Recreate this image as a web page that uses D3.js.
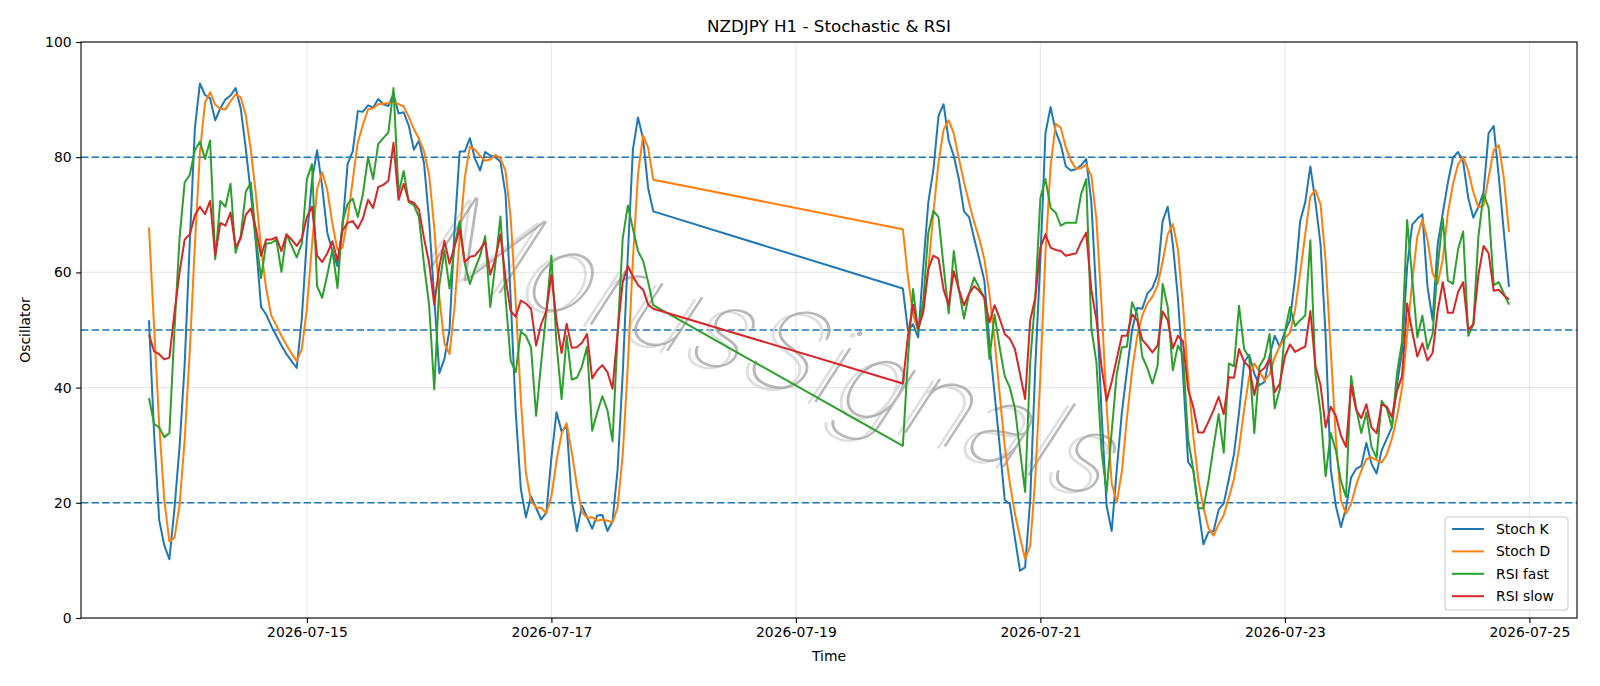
<!DOCTYPE html>
<html>
<head>
<meta charset="utf-8">
<script src="https://cdn.jsdelivr.net/npm/d3@7"></script>
<style>
html,body{margin:0;padding:0;background:#fff;}
svg{display:block;font-family:"DejaVu Sans",sans-serif;}
</style>
</head>
<body>
<svg id="chart" width="1600" height="686"></svg>
<script>
// ---------------- DATA ----------------
const title = "NZDJPY H1 - Stochastic & RSI";
const xLabel = "Time";
const yLabel = "Oscillator";
const seriesNames = ["Stoch K", "Stoch D", "RSI fast", "RSI slow"];
const sessionStarts = ["2026-07-13T17:00:00Z", "2026-07-19T21:00:00Z"]; // hourly bars
const sessionLengths = [100, 120];
const xTickDates = ["2026-07-15", "2026-07-17", "2026-07-19", "2026-07-21", "2026-07-23", "2026-07-25"];
const yTicks = [0, 20, 40, 60, 80, 100];
const refLevels = [20, 50, 80];
const watermark = "MorusSignals";

const stochK = [
  51.7, 32, 17, 12.6, 10.2, 19, 29.7, 44, 65, 85,
  92.8, 90.8, 90.2, 86.4, 88.5, 90, 90.7, 92, 88.5, 81.5,
  73.6, 65, 54, 52.7, 50.7, 49, 47.3, 45.8, 44.6, 43.4,
  52, 66, 76, 81.2, 74.9, 66.9, 63.7, 61.1, 68, 78.9,
  81, 88, 87.9, 89, 88.6, 90.1, 89.2, 88.9, 91, 87.6,
  87.8, 85.5, 81.3, 82.9, 78.9, 68.9, 55.6, 42.5, 45, 50,
  67.6, 81, 81, 83.3, 79.7, 77.7, 80.9, 80.3, 80, 79.2,
  73.6, 55.6, 35.7, 22.4, 17.5, 21.1, 19.1, 17.1, 18.3, 27.8,
  35.7, 32.4, 33.4, 20.5, 15.1, 19.5, 17.5, 15.5, 17.8, 17.9,
  15.1, 16.8, 25.8, 42.4, 62.9, 81.3, 86.9, 83.2, 74.6, 70.6,
  57.2, 49.9, 51, 48.7, 61, 72.2, 77.9, 87.2, 89.2, 82.9,
  80.2, 76.2, 70.6, 69.6, 65.9, 62.3, 58.6, 47.7, 39, 30,
  20.5, 19.8, 13.9, 8.2, 8.8, 20.5, 43.7, 62.3, 84.2, 88.7,
  84.5, 82.2, 78.4, 77.7, 77.9, 78.6, 79.7, 72.2, 55.6, 35.7,
  19.5, 15.1, 25.8, 35.7, 43, 50, 53.8, 53.7, 56.3, 57.3,
  59.6, 68.9, 71.4, 64.9, 55.6, 42.4, 27.1, 25.8, 19.1, 12.8,
  14.9, 15.1, 18.8, 19.9, 24.1, 28.4, 35.7, 44.4, 45.7, 42.4,
  40.4, 41, 45.5, 49, 47.1, 49.7, 51.7, 59, 68.9, 72.2,
  78.4, 72.2, 64.9, 49, 25.8, 19.5, 15.8, 19.1, 24.4, 25.9,
  26.4, 30.4, 26.8, 25.1, 29.1, 31.1, 33.1, 40.4, 46.3, 61,
  68.3, 69.3, 70.1, 57.5, 51.7, 64.9, 70.3, 75.6, 79.9, 80.9,
  79.2, 72.9, 69.5, 71.4, 73.9, 84.2, 85.4, 76.6, 66.9, 57.5
];
const stochD = [
  67.8, 50.5, 33.6, 20.5, 13.3, 13.9, 19.6, 30.9, 46.2, 64.7,
  80.9, 89.5, 91.3, 89.1, 88.4, 88.3, 89.7, 90.9, 90.4, 87.3,
  81.2, 73.4, 64.2, 57.2, 52.5, 50.8, 49, 47.4, 45.9, 44.6,
  46.7, 53.8, 64.7, 74.4, 77.4, 74.3, 68.5, 63.9, 64.3, 69.3,
  76, 82.6, 85.6, 88.3, 88.5, 89.2, 89.3, 89.4, 89.7, 89.2,
  88.8, 87, 84.9, 83.2, 81, 76.9, 67.8, 55.7, 47.7, 45.8,
  54.2, 66.2, 76.5, 81.8, 81.3, 80.2, 79.4, 79.6, 80.4, 79.8,
  77.6, 69.5, 55, 37.9, 25.2, 20.3, 19.2, 19.1, 18.2, 21.1,
  27.3, 32, 33.8, 28.8, 23, 18.4, 17.4, 17.5, 16.9, 17.1,
  16.9, 16.6, 19.2, 28.3, 43.7, 62.2, 77, 83.8, 81.6, 76.1,
  67.5, 59.2, 52.7, 49.9, 53.6, 60.6, 70.4, 79.1, 84.8, 86.4,
  84.1, 79.8, 75.7, 72.1, 68.7, 65.9, 62.3, 56.2, 48.4, 38.9,
  29.8, 23.4, 18.1, 14, 10.3, 12.5, 24.3, 42.2, 63.4, 78.4,
  85.8, 85.1, 81.7, 79.4, 78, 78.1, 78.7, 76.8, 69.2, 54.5,
  36.9, 23.4, 20.1, 25.5, 34.8, 42.9, 48.9, 52.5, 54.6, 55.8,
  57.7, 61.9, 66.6, 68.4, 64, 54.3, 41.7, 31.8, 24, 19.2,
  15.6, 14.3, 16.3, 17.9, 20.9, 24.1, 29.4, 36.2, 41.9, 44.2,
  42.8, 41.3, 42.3, 45.2, 47.2, 48.6, 49.5, 53.5, 59.9, 66.7,
  73.2, 74.3, 71.8, 62, 46.6, 31.4, 20.4, 18.1, 19.8, 23.1,
  25.6, 27.6, 27.9, 27.4, 27, 28.4, 31.1, 34.9, 39.9, 49.2,
  58.5, 66.2, 69.2, 65.6, 59.8, 58, 62.3, 70.3, 75.3, 78.8,
  80, 77.7, 73.9, 71.3, 71.6, 76.5, 81.2, 82.1, 76.3, 67
];
const rsiFast = [
  38.2, 33.7, 33.1, 31.4, 32.1, 50, 66, 75.6, 76.9, 81.2,
  82.7, 79.7, 82.9, 62.3, 72.4, 71.4, 75.4, 63.4, 66.3, 74,
  75.6, 66, 59, 65, 65.1, 65.7, 60.1, 66.6, 64.6, 62.6,
  65, 76.2, 78.8, 57.6, 55.6, 59.6, 63.9, 57.3, 68.9, 71.9,
  72.8, 69.6, 73.6, 80, 76.2, 82.3, 83.3, 84.3, 92, 73.7,
  77.6, 72.2, 71.7, 69.6, 61.3, 54.3, 39.7, 57.8, 63.8, 57.2,
  64.6, 68.9, 61.5, 58, 60.6, 62.9, 66.3, 54, 61.5, 69.7,
  55.6, 44.7, 42.7, 49.7, 49, 47, 35.1, 44.4, 53, 62.9,
  47.7, 38, 49, 41.4, 41.7, 43.7, 47.1, 32.5, 35.7, 38.5,
  36.1, 30.7, 49, 65.9, 71.6, 67.6, 63.7, 62, 58.3, 54.3,
  29.9, 45, 57.1, 49.7, 55, 66.9, 70.7, 69.6, 61, 52.9,
  63.7, 57, 52, 56.3, 59.1, 57.3, 55.6, 45, 52.7, 47,
  42, 40, 36.4, 29.1, 21.9, 44.4, 55.6, 72.9, 76.2, 71.2,
  70.4, 68.1, 68.6, 68.6, 68.6, 73.6, 76.2, 50.3, 44.4, 29.1,
  21.8, 32.4, 42.4, 47, 47.1, 54.8, 52.7, 45.4, 43.4, 40.7,
  43.7, 58, 54, 43, 47.3, 45.7, 31.1, 25.8, 19.1, 19,
  23.8, 29.7, 35.4, 28.7, 44.2, 43.7, 54.2, 46.7, 45.2, 32.1,
  43.7, 45.2, 49.3, 36.4, 39.7, 49.7, 54, 50.7, 51.7, 52.5,
  65.6, 42.4, 35.7, 24.6, 32.1, 29.1, 23.8, 21, 42, 36.4,
  32.1, 35.7, 29.7, 27.8, 37.7, 36.4, 33.1, 42.4, 48, 69.1,
  59, 48.7, 52.5, 46.7, 49.3, 61, 69.4, 58.6, 58, 64,
  67.1, 49, 51, 66.3, 73.6, 71.2, 57.8, 58.3, 56.3, 54.4
];
const rsiSlow = [
  49.2, 46.3, 45.8, 44.9, 45.2, 53, 60, 65.7, 66.6, 69.9,
  71.4, 70.1, 72.4, 62.9, 68.6, 68.1, 70.4, 64.4, 65.9, 70,
  71.1, 67.6, 62.9, 65.7, 65.7, 66.1, 63.7, 66.6, 65.7, 64.6,
  65.9, 69.6, 71.4, 62.9, 61.8, 63.3, 65.4, 62, 67.3, 68.6,
  68.9, 67.6, 69.4, 72.6, 71.2, 74.8, 75.2, 75.9, 82.5, 72.6,
  75.4, 72.4, 72.1, 70.9, 65.9, 61.6, 54.4, 61, 65.5, 61.5,
  64.6, 67.5, 61.8, 62.7, 62.9, 64, 65.3, 59.6, 62.4, 66.6,
  59, 53.3, 52.3, 55.1, 54.6, 53.7, 47.3, 51, 53.3, 59.6,
  51.7, 46, 51.1, 46.9, 47, 47.8, 49.3, 41.6, 43, 43.9,
  42.7, 39.8, 49.7, 58.3, 61.1, 59.3, 57.8, 57, 54.4, 53.7,
  40.7, 49, 54.4, 50.3, 53, 60.6, 62.9, 62.4, 57, 54.3,
  60.2, 57, 54.3, 56.3, 57.6, 56.8, 55.6, 51.3, 54.3, 52,
  49.3, 48.5, 46.7, 42.4, 38, 51.7, 55.6, 64.3, 66.6, 64.3,
  63.9, 63.7, 62.9, 63.1, 63.3, 65.3, 66.9, 57, 51.7, 43.7,
  37.7, 41, 45, 49, 49, 52.7, 51.7, 48.3, 47.3, 46.1,
  47.3, 53.2, 51.7, 46.8, 49, 48, 39.7, 36.7, 32.2, 32.2,
  34.1, 36.1, 38.4, 35.4, 41.8, 41.7, 46.7, 44.5, 43.6, 38.7,
  42.7, 43.4, 45, 39.2, 40.7, 45.4, 47.5, 46.2, 46.7, 47.1,
  53.3, 43.7, 40.4, 33.1, 36.7, 35.1, 31.7, 29.7, 40.4, 36.1,
  34.7, 37.1, 33.1, 32.1, 37.1, 36.7, 34.9, 39.4, 42, 54.6,
  49.7, 45.4, 47.7, 44.7, 46, 53.3, 58.3, 53, 53, 56.6,
  58.3, 50, 51, 59.6, 64.6, 63.3, 56.8, 57, 56, 55.3
];

// ---------------- BUILD ----------------
const times = [];
sessionStarts.forEach((s, i) => {
  const t0 = Date.parse(s);
  for (let k = 0; k < sessionLengths[i]; k++) times.push(new Date(t0 + k * 3600e3));
});
const seriesValues = [stochK, stochD, rsiFast, rsiSlow];
const colors = ["#1f77b4", "#ff7f0e", "#2ca02c", "#d62728"];

const m = {left: 81, right: 1577, top: 42, bottom: 618};
const svg = d3.select("#chart");

const tMin = +times[0], tMax = +times[times.length - 1];
const pad = (tMax - tMin) * 0.05;
const x = d3.scaleUtc().domain([new Date(tMin - pad), new Date(tMax + pad)]).range([m.left, m.right]);
const y = d3.scaleLinear().domain([0, 100]).range([m.bottom, m.top]);

const fontSize = 13.9;

// grid
const grid = svg.append("g");
xTickDates.forEach(d => {
  const xx = x(new Date(d + "T00:00:00Z"));
  grid.append("line").attr("x1", xx).attr("x2", xx).attr("y1", m.top).attr("y2", m.bottom)
    .attr("stroke", "#b0b0b0").attr("stroke-opacity", 0.3).attr("stroke-width", 1.1);
});
yTicks.forEach(v => {
  grid.append("line").attr("x1", m.left).attr("x2", m.right).attr("y1", y(v)).attr("y2", y(v))
    .attr("stroke", "#b0b0b0").attr("stroke-opacity", 0.3).attr("stroke-width", 1.1);
});

// reference lines
refLevels.forEach(v => {
  svg.append("line").attr("x1", m.left).attr("x2", m.right).attr("y1", y(v)).attr("y2", y(v))
    .attr("stroke", "#1f77b4").attr("stroke-width", 1.4).attr("stroke-dasharray", "7.4,3.2");
});

// watermark (thin text with soft shadow)
const wm = svg.append("g").attr("transform", "translate(780,346) rotate(19) skewX(-14)");
function wmText(dx, dy, fill, op) {
  wm.append("text").attr("x", dx).attr("y", dy).attr("text-anchor", "middle").attr("dominant-baseline", "central")
    .attr("font-size", 114).attr("font-weight", 100).attr("font-family", "Inter, Lato, sans-serif")
    .attr("letter-spacing", 2).attr("fill", fill).attr("fill-opacity", op)
    .text(watermark);
}
wmText(-5, 4, "#d2d2d2", 0.7);
wmText(0, 0, "#a0a0a0", 0.75);

// lines
const line = d3.line().x((d, i) => x(times[i])).y(d => y(d));
seriesValues.forEach((vals, k) => {
  svg.append("path").datum(vals).attr("d", line).attr("fill", "none")
    .attr("stroke", colors[k]).attr("stroke-width", 2).attr("stroke-linejoin", "round");
});

// spines
svg.append("rect").attr("x", m.left).attr("y", m.top).attr("width", m.right - m.left).attr("height", m.bottom - m.top)
  .attr("fill", "none").attr("stroke", "#000").attr("stroke-width", 1.1);

// axes
const xAxis = svg.append("g").attr("transform", `translate(0,${m.bottom})`)
  .call(d3.axisBottom(x).tickValues(xTickDates.map(d => new Date(d + "T00:00:00Z")))
    .tickFormat(d3.utcFormat("%Y-%m-%d")).tickSize(4.9).tickPadding(4.5));
xAxis.select(".domain").remove();
xAxis.selectAll("text").attr("font-size", fontSize).attr("font-family", "DejaVu Sans").attr("fill", "#000");
xAxis.selectAll("line").attr("stroke", "#000").attr("stroke-width", 1.1);

const yAxis = svg.append("g").attr("transform", `translate(${m.left},0)`)
  .call(d3.axisLeft(y).tickValues(yTicks).tickSize(4.9).tickPadding(4.5));
yAxis.select(".domain").remove();
yAxis.selectAll("text").attr("font-size", fontSize).attr("font-family", "DejaVu Sans").attr("fill", "#000");
yAxis.selectAll("line").attr("stroke", "#000").attr("stroke-width", 1.1);

// labels
svg.append("text").attr("x", (m.left + m.right) / 2).attr("y", 31.5).attr("text-anchor", "middle")
  .attr("font-size", 16.7).text(title);
svg.append("text").attr("x", (m.left + m.right) / 2).attr("y", 661).attr("text-anchor", "middle")
  .attr("font-size", fontSize).text(xLabel);
svg.append("text").attr("transform", `translate(25,${(m.top + m.bottom) / 2}) rotate(-90)`)
  .attr("text-anchor", "middle").attr("dominant-baseline", "central").attr("font-size", fontSize).text(yLabel);

// legend
const lg = svg.append("g");
lg.append("rect").attr("x", 1445).attr("y", 517).attr("width", 123).attr("height", 93).attr("rx", 3)
  .attr("fill", "#fff").attr("fill-opacity", 0.8).attr("stroke", "#cccccc").attr("stroke-width", 1.1);
seriesNames.forEach((n, i) => {
  const yy = 529 + i * 22.4;
  lg.append("line").attr("x1", 1452).attr("x2", 1484).attr("y1", yy).attr("y2", yy)
    .attr("stroke", colors[i]).attr("stroke-width", 2);
  lg.append("text").attr("x", 1496).attr("y", yy).attr("dominant-baseline", "central")
    .attr("font-size", fontSize).text(n);
});
</script>
</body>
</html>
